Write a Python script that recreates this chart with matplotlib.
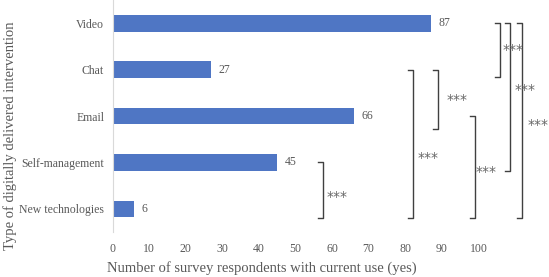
import matplotlib.pyplot as plt
import numpy as np

plt.rcParams['font.family'] = ['Liberation Serif', 'DejaVu Serif']

categorias = ['Video', 'Chat', 'Email', 'Self-management', 'New technologies']
valores = [87, 27, 66, 45, 6]
ticks_x = [0, 10, 20, 30, 40, 50, 60, 70, 80, 90, 100]

# comparaciones significativas: (categoria arriba, categoria abajo, etiqueta)
comparaciones = [
    ('Self-management', 'New technologies', '***'),
    ('Chat', 'New technologies', '***'),
    ('Chat', 'Email', '***'),
    ('Email', 'New technologies', '***'),
    ('Video', 'Chat', '***'),
    ('Video', 'Self-management', '***'),
    ('Video', 'New technologies', '***'),
]

# posicion de cada corchete (x en unidades de datos), extension y posicion del texto
x_corchete = [57.5, 82.1, 88.9, 99.0, 105.9, 108.6, 111.9]
extra_abajo = [0.19, 0.19, 0.28, 0.19, 0.16, 0.18, 0.19]
texto_pos = [(58.6, 3.75), (83.5, 2.9), (91.4, 1.65), (99.3, 3.2), (106.7, 0.58), (110.0, 1.44), (113.3, 2.2)]

fig = plt.figure(figsize=(5.49, 2.77), dpi=100)
ax = fig.add_axes([0.205, 0.162, 0.793, 0.838])

y = np.arange(len(categorias))
ax.barh(y, valores, height=0.36, color='#4F76C4')
for yi, v in zip(y, valores):
    ax.text(v + 2.0, yi, str(v), va='center', ha='left', fontsize=8.5, color='#595959')

ax.set_yticks(y)
ax.set_yticklabels(categorias)
ax.set_ylim(-0.5, len(categorias) - 0.5)
ax.invert_yaxis()
ax.set_xlim(0, 119)
ax.set_xticks(ticks_x)
ax.tick_params(axis='both', length=0, labelsize=8.5, labelcolor='#595959')
ax.tick_params(axis='x', pad=8)
ax.tick_params(axis='y', pad=6)

for lado in ['top', 'right', 'bottom']:
    ax.spines[lado].set_visible(False)
ax.spines['left'].set_color('#D9D9D9')

idx = {c: i for i, c in enumerate(categorias)}
for (a, b, etiqueta), xc, ext, (tx, ty) in zip(comparaciones, x_corchete, extra_abajo, texto_pos):
    y0 = idx[a]
    y1 = idx[b] + ext
    ax.plot([xc - 1.4, xc, xc, xc - 1.4], [y0, y0, y1, y1], color='#404040', lw=1.0, clip_on=False)
    ax.text(tx, ty, etiqueta, fontsize=10, color='#666666', va='center', ha='left',
            family='DejaVu Sans', clip_on=False)

fig.text(262 / 549, 1 - 268 / 277, 'Number of survey respondents with current use (yes)',
         ha='center', va='center', fontsize=10.5, color='#595959')
fig.text(10 / 549, 1 - 136 / 277, 'Type of digitally delivered intervention',
         ha='center', va='center', rotation=90, fontsize=10.5, color='#595959')

fig.savefig('out.png', dpi=100)
